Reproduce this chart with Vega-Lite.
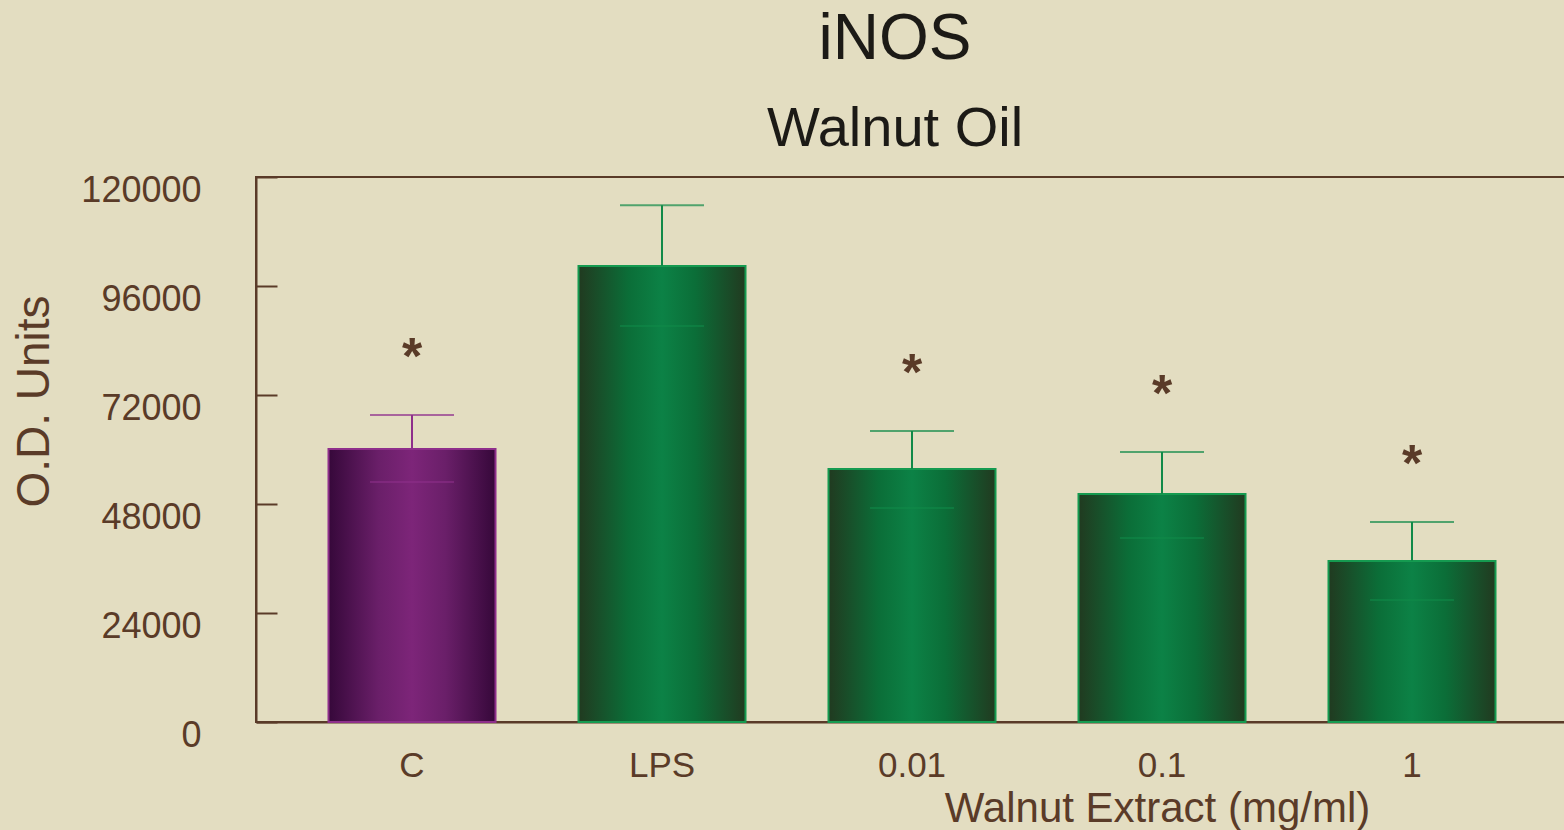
{
  "$schema": "https://vega.github.io/schema/vega-lite/v6.json",
  "width": 1312,
  "height": 545,
  "autosize": {"type": "none"},
  "padding": {"left": 256, "top": 177, "right": 0, "bottom": 108},
  "background": "#e3ddc1",
  "title": {
    "text": "iNOS",
    "subtitle": "Walnut Oil",
    "anchor": "middle",
    "dx": -17,
    "offset": -35,
    "fontSize": 64,
    "fontWeight": "normal",
    "font": "Liberation Sans",
    "color": "#1c1a16",
    "subtitleFontSize": 56,
    "subtitleFont": "Liberation Sans",
    "subtitleColor": "#1c1a16",
    "subtitlePadding": 30
  },
  "config": {
    "view": {"stroke": "#5a3b28", "strokeWidth": 2},
    "font": "Liberation Sans",
    "axis": {"grid": false, "domainColor": "#5a3b28", "domainWidth": 2, "tickColor": "#5a3b28", "tickWidth": 2,
      "labelColor": "#5a3b28", "titleColor": "#5a3b28", "labelFont": "Liberation Sans", "titleFont": "Liberation Sans",
      "titleFontWeight": "normal"}
  },
  "data": {
    "values": [
      {"dose": "C", "value": 60100, "lower": 52840, "upper": 67600, "sig": "*", "group": "control"},
      {"dose": "LPS", "value": 100400, "lower": 87190, "upper": 113800, "sig": "", "group": "treated"},
      {"dose": "0.01", "value": 55700, "lower": 47120, "upper": 64070, "sig": "*", "group": "treated"},
      {"dose": "0.1", "value": 50200, "lower": 40510, "upper": 59450, "sig": "*", "group": "treated"},
      {"dose": "1", "value": 35450, "lower": 26860, "upper": 44040, "sig": "*", "group": "treated"}
    ]
  },
  "encoding": {
    "x": {
      "field": "dose", "type": "nominal", "sort": null,
      "scale": {"paddingInner": 0.332, "paddingOuter": 0.29},
      "axis": {"title": "Walnut Extract (mg/ml)", "labelAngle": 0, "ticks": false, "labelFontSize": 35,
        "labelPadding": 26, "titleFontSize": 42, "titleX": 901, "titleY": 99, "titleAlign": "center",
        "titleBaseline": "alphabetic", "titleAnchor": null}
    }
  },
  "layer": [
    {
      "transform": [{"filter": "datum.group == 'control'"}],
      "mark": {"type": "bar", "stroke": "#8e2f8b", "strokeWidth": 2,
        "color": {"gradient": "linear", "x1": 0, "x2": 1, "y1": 0, "y2": 0,
          "stops": [{"offset": 0, "color": "#36083a"}, {"offset": 0.3, "color": "#6a1f69"}, {"offset": 0.5, "color": "#7d2579"}, {"offset": 0.7, "color": "#6a1f69"}, {"offset": 1, "color": "#36083a"}]}},
      "encoding": {
        "y": {"field": "value", "type": "quantitative",
          "scale": {"domain": [0, 120000], "nice": false},
          "axis": {"values": [0, 24000, 48000, 72000, 96000, 120000], "tickSize": -21, "labelFontSize": 36,
            "labelPadding": 76, "labelOffset": 13, "labelBaseline": "middle", "format": "d",
            "title": "O.D. Units", "titleFontSize": 46, "titleAngle": -90, "titleX": -222, "titleY": 224,
            "titleAlign": "center", "titleBaseline": "middle", "titleAnchor": null}}
      }
    },
    {
      "transform": [{"filter": "datum.group == 'treated'"}],
      "mark": {"type": "bar", "stroke": "#159a50", "strokeWidth": 2,
        "color": {"gradient": "linear", "x1": 0, "x2": 1, "y1": 0, "y2": 0,
          "stops": [{"offset": 0, "color": "#213a20"}, {"offset": 0.3, "color": "#0b6e38"}, {"offset": 0.5, "color": "#0c8246"}, {"offset": 0.7, "color": "#0b6e38"}, {"offset": 1, "color": "#213a20"}]}},
      "encoding": {"y": {"field": "value", "type": "quantitative"}}
    },
    {
      "mark": {"type": "rule", "strokeWidth": 2},
      "encoding": {
        "y": {"field": "value", "type": "quantitative"},
        "y2": {"field": "upper"},
        "color": {"field": "group", "type": "nominal", "scale": {"domain": ["control", "treated"], "range": ["#8e2f8b", "#118a48"]}, "legend": null}
      }
    },
    {
      "mark": {"type": "tick", "size": 84, "thickness": 2, "orient": "horizontal"},
      "encoding": {
        "y": {"field": "upper", "type": "quantitative"},
        "color": {"field": "group", "type": "nominal", "legend": null}
      }
    },
    {
      "mark": {"type": "tick", "size": 84, "thickness": 2, "orient": "horizontal", "opacity": 0.55},
      "encoding": {
        "y": {"field": "lower", "type": "quantitative"},
        "color": {"field": "group", "type": "nominal", "legend": null}
      }
    },
    {
      "mark": {"type": "text", "fontSize": 52, "fontWeight": "bold", "color": "#5a3b28", "baseline": "middle", "dy": -57},
      "encoding": {
        "y": {"field": "upper", "type": "quantitative"},
        "text": {"field": "sig"}
      }
    }
  ]
}
